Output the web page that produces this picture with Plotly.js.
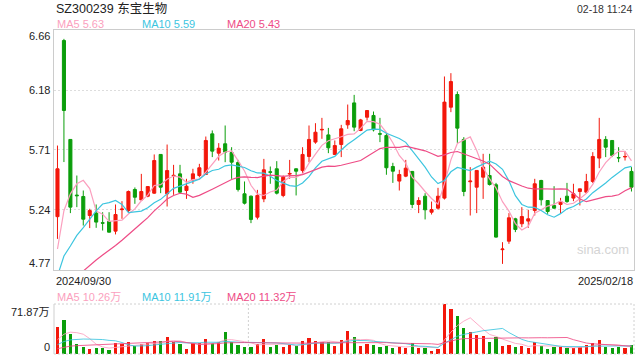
<!DOCTYPE html>
<html><head><meta charset="utf-8">
<script src="https://cdn.plot.ly/plotly-3.0.1.min.js"></script>
<style>html,body{margin:0;padding:0;background:#fff}#chart{width:640px;height:360px}</style>
</head><body><div id="chart"></div>
<script>
const stockTitle = 'SZ300239 东宝生物';
const timeStamp = '02-18 11:24';
const dateLabels = ['2024/09/30', '2025/02/18'];
const priceTickLabels = ['6.66', '6.18', '5.71', '5.24', '4.77'];
const priceTickValues = [6.66, 6.1875, 5.715, 5.2425, 4.77];
const volumeTickLabels = ['71.87万', '0'];
const volumeTickValues = [71.87, 0];
const maLegend = ['MA5 5.63', 'MA10 5.59', 'MA20 5.43'];
const volMaLegend = ['MA5 10.26万', 'MA10 11.91万', 'MA20 11.32万'];
const watermark = 'sina.com';

const openP = [5.19,6.577,5.798,5.36,5.349,5.199,5.218,5.142,5.152,5.076,
5.245,5.238,5.404,5.322,5.351,5.375,5.68,5.37,5.51,5.527,
5.396,5.48,5.514,5.522,5.842,5.69,5.764,5.695,5.616,5.37,
5.351,5.186,5.33,5.543,5.567,5.357,5.525,5.567,5.553,5.664,
5.777,5.873,5.834,5.68,5.758,5.913,6.086,5.869,5.973,5.987,
5.843,5.829,5.585,5.47,5.509,5.546,5.286,5.351,5.225,5.257,
5.336,6.052,6.152,5.798,5.465,5.422,5.501,5.514,5.441,4.93,
4.997,5.173,5.134,5.155,5.239,5.475,5.317,5.278,5.286,5.351,
5.336,5.388,5.383,5.467,5.651,5.798,5.79,5.656,5.66,5.546];
const highP = [5.75,6.59,5.80,5.514,5.396,5.252,5.286,5.225,5.225,5.286,
5.312,5.396,5.42,5.527,5.43,5.68,5.68,5.758,5.598,5.598,
5.488,5.567,5.606,5.821,5.869,5.769,5.908,5.737,5.637,5.467,
5.357,5.401,5.645,5.585,5.627,5.514,5.637,5.57,5.737,5.908,
5.926,5.968,5.889,5.79,5.913,6.073,6.149,5.96,6.026,6.018,
5.968,5.855,5.614,5.559,5.637,5.55,5.343,5.375,5.309,5.417,
6.294,6.32,6.176,5.816,5.58,5.554,5.685,5.685,5.456,4.989,
5.218,5.181,5.265,5.244,5.488,5.48,5.32,5.43,5.338,5.456,
5.449,5.41,5.527,5.698,5.968,5.824,5.79,5.737,5.706,5.58];
const lowP = [5.015,5.62,5.218,5.265,5.12,5.10,5.102,5.081,5.065,5.05,
5.173,5.225,5.291,5.32,5.343,5.37,5.375,5.27,5.362,5.37,
5.33,5.449,5.50,5.52,5.659,5.632,5.619,5.488,5.388,5.286,
5.139,5.168,5.304,5.449,5.365,5.343,5.488,5.357,5.532,5.619,
5.764,5.803,5.69,5.68,5.659,5.882,5.863,5.863,5.947,5.861,
5.777,5.52,5.456,5.396,5.501,5.257,5.218,5.168,5.207,5.246,
5.325,6.013,5.771,5.351,5.199,5.218,5.33,5.435,5.025,4.818,
4.976,5.068,5.107,5.102,5.199,5.278,5.212,5.252,5.218,5.299,
5.312,5.278,5.37,5.454,5.572,5.659,5.659,5.619,5.632,5.388];
const closeP = [5.567,6.026,5.265,5.355,5.17,5.238,5.147,5.139,5.068,5.207,
5.25,5.388,5.343,5.388,5.427,5.632,5.422,5.553,5.515,5.383,
5.43,5.527,5.575,5.79,5.706,5.729,5.698,5.619,5.404,5.296,
5.168,5.357,5.559,5.54,5.375,5.501,5.53,5.548,5.68,5.798,
5.855,5.877,5.732,5.75,5.882,5.947,5.895,5.952,6.026,5.874,
5.84,5.575,5.548,5.522,5.572,5.286,5.317,5.244,5.246,5.351,
6.092,6.254,5.887,5.388,5.47,5.554,5.58,5.443,5.029,4.935,
5.181,5.089,5.191,5.173,5.449,5.323,5.231,5.257,5.309,5.309,
5.37,5.409,5.467,5.664,5.798,5.737,5.672,5.653,5.664,5.422];
const volume = [39.3,49.3,28.7,14.4,10.5,7.6,9.1,9.1,6.2,15.3,
14.4,16.8,10.9,14.4,15.3,19.1,18.1,24.9,17.6,14.4,
7.6,15.3,15.3,22.0,15.3,17.7,31.1,16.9,12.4,10.5,
10.5,14.4,21.6,10.5,13.4,10.5,13.4,12.0,18.2,23.0,
18.2,16.8,16.8,12.0,20.1,33.5,24.9,12.0,14.4,13.4,
10.5,12.0,8.6,10.5,8.6,15.3,8.6,8.6,4.8,7.2,
71.87,64.7,55.1,37.4,31.1,27.8,26.3,17.7,24.0,11.5,
12.5,10.5,11.3,8.6,17.0,11.5,7.2,10.5,9.6,8.6,
8.6,10.5,13.4,15.3,20.1,10.5,8.6,10.5,8.6,13.1];
// closes and volumes of the 19 sessions before the window (feed the moving averages)
const priorCloses = [4.28,4.27,4.29,4.30,4.32,4.33,4.35,4.37,4.40,
4.42,4.45,4.48,4.52,4.55,4.55,4.52,4.60,4.96,5.03];
const priorVolumes = [1.5,1.6,1.7,1.8,1.8,1.9,1.8,1.9,2.0,2.0,
4,5,6,7,9,10,14,18,21.7];

const RED = '#f3170b', GREEN = '#0b9e0b';
const C_MA5 = '#fb9fbe', C_MA10 = '#3cc5df', C_MA20 = '#ee4c86';
const FONT = 'Liberation Sans, Arial, Noto Sans CJK SC, sans-serif';

const idx = closeP.map((_, i) => i);
function movingAvg(prior, vals, n) {
  const all = prior.concat(vals), off = prior.length;
  return vals.map((_, i) => {
    let s = 0; for (let k = 0; k < n; k++) s += all[off + i - k];
    return s / n;
  });
}
const ma5 = movingAvg(priorCloses, closeP, 5), ma10 = movingAvg(priorCloses, closeP, 10), ma20 = movingAvg(priorCloses, closeP, 20);
const vma5 = movingAvg(priorVolumes, volume, 5), vma10 = movingAvg(priorVolumes, volume, 10), vma20 = movingAvg(priorVolumes, volume, 20);
const volColors = idx.map(i => closeP[i] >= openP[i] ? RED : GREEN);

const traces = [
  {type: 'candlestick', x: idx, open: openP, high: highP, low: lowP, close: closeP,
   increasing: {line: {color: RED, width: 1}, fillcolor: RED},
   decreasing: {line: {color: GREEN, width: 1}, fillcolor: GREEN},
   whiskerwidth: 0, hoverinfo: 'skip', xaxis: 'x', yaxis: 'y'},
  {type: 'scatter', mode: 'lines', x: idx, y: ma5, line: {color: C_MA5, width: 1.2}, hoverinfo: 'skip'},
  {type: 'scatter', mode: 'lines', x: idx, y: ma10, line: {color: C_MA10, width: 1.2}, hoverinfo: 'skip'},
  {type: 'scatter', mode: 'lines', x: idx, y: ma20, line: {color: C_MA20, width: 1.2}, hoverinfo: 'skip'},
  {type: 'bar', x: idx, y: volume, width: 0.5, marker: {color: volColors, line: {width: 0}}, xaxis: 'x2', yaxis: 'y2', hoverinfo: 'skip'},
  {type: 'scatter', mode: 'lines', x: idx, y: vma5, line: {color: C_MA5, width: 1}, xaxis: 'x2', yaxis: 'y2', opacity: 0.85, hoverinfo: 'skip'},
  {type: 'scatter', mode: 'lines', x: idx, y: vma10, line: {color: C_MA10, width: 1}, xaxis: 'x2', yaxis: 'y2', opacity: 0.85, hoverinfo: 'skip'},
  {type: 'scatter', mode: 'lines', x: idx, y: vma20, line: {color: C_MA20, width: 1}, xaxis: 'x2', yaxis: 'y2', opacity: 0.85, hoverinfo: 'skip'}
];

// pixel helpers for text placement (plot area: x 54..634, y 30..354)
const PX = p => (p - 54) / 580;
const PY = p => (354 - p) / 324;
const txt = (text, x, y, xanchor, size, color) => ({text, xref: 'paper', yref: 'paper', x: PX(x), y: PY(y),
  xanchor, yanchor: 'middle', showarrow: false, font: {family: FONT, size, color}});

const legendColors = [C_MA5, C_MA10, C_MA20];
const legendX = [55, 140, 225];
const annotations = [
  txt(stockTitle, 54, 8.5, 'left', 12.5, '#222'),
  txt(timeStamp, 634, 9, 'right', 10.5, '#333'),
  txt(dateLabels[0], 54, 281, 'left', 11, '#222'),
  txt(dateLabels[dateLabels.length - 1], 635, 281, 'right', 11, '#222'),
  txt(watermark, 603, 249, 'center', 13, '#d4d4d4')
];
maLegend.forEach((t, i) => annotations.push(txt(t, legendX[i], 24, 'left', 11, legendColors[i])));
volMaLegend.forEach((t, i) => annotations.push(txt(t, legendX[i], 297, 'left', 11, legendColors[i])));
priceTickLabels.forEach((t, i) => annotations.push({text: t, xref: 'paper', yref: 'y', x: 0, y: priceTickValues[i],
  xanchor: 'right', yanchor: 'middle', xshift: -2, yshift: i === 0 ? -5.5 : (i === priceTickLabels.length - 1 ? 6.5 : 0),
  showarrow: false, font: {family: FONT, size: 11, color: '#222'}}));
volumeTickLabels.forEach((t, i) => annotations.push({text: t, xref: 'paper', yref: 'y2', x: 0, y: volumeTickValues[i],
  xanchor: 'right', yanchor: 'middle', xshift: -2, yshift: i === 0 ? -8 : 6.5,
  showarrow: false, font: {family: FONT, size: 11, color: '#222'}}));

const dotted = {color: '#d0d0d0', width: 1, dash: '2px,2px'};
const shapes = [
  {type: 'line', xref: 'paper', yref: 'y2 domain', x0: 0, x1: 0, y0: 0, y1: 1, line: {color: '#cfcfcf', width: 1}},
  {type: 'line', xref: 'paper', yref: 'y2 domain', x0: 0, x1: 1, y0: 1, y1: 1, line: dotted},
  {type: 'line', xref: 'paper', yref: 'y2 domain', x0: 1, x1: 1, y0: 0, y1: 1, line: dotted},
  {type: 'line', xref: 'paper', yref: 'y2 domain', x0: 0, x1: 1, y0: 0, y1: 0, line: dotted},
  {type: 'line', xref: 'x2', yref: 'y2 domain', x0: 29.6, x1: 29.6, y0: 0, y1: 1, line: dotted}
];

const xRange = [-0.54, 89.39];
const layout = {
  width: 640, height: 360, margin: {l: 54, r: 6, t: 30, b: 6},
  paper_bgcolor: '#fff', plot_bgcolor: '#fff', showlegend: false, boxgap: 0.32,
  font: {family: FONT},
  xaxis: {range: xRange, showticklabels: false, showgrid: false, zeroline: false, ticks: '',
          showline: true, mirror: true, linecolor: '#cccccc', linewidth: 1, rangeslider: {visible: false}, anchor: 'y'},
  yaxis: {domain: [0.2593, 1], range: [4.77, 6.66], tickvals: priceTickValues.slice(1, -1), showticklabels: false,
          showgrid: true, gridcolor: '#dddddd', griddash: '2px,2px', gridwidth: 1, zeroline: false, ticks: '',
          showline: true, mirror: true, linecolor: '#cccccc', linewidth: 1},
  xaxis2: {range: xRange, anchor: 'y2', showticklabels: false, showgrid: false, zeroline: false, ticks: '', showline: false},
  yaxis2: {domain: [0, 0.1543], range: [0, 71.87], showticklabels: false, showgrid: false, zeroline: false, ticks: '', showline: false},
  annotations, shapes, bargap: 0
};
Plotly.newPlot('chart', traces, layout, {staticPlot: true, displayModeBar: false});
</script></body></html>
